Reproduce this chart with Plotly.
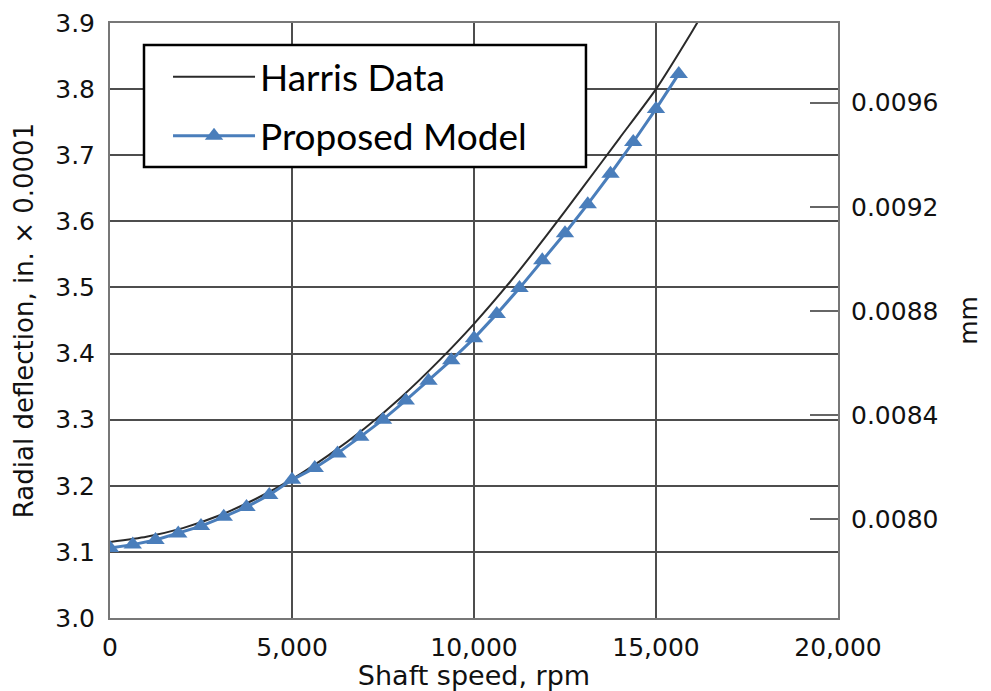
import plotly.graph_objects as go

# Harris Data (black line)
harris_rpm = [0, 1000, 2000, 3000, 4000, 5000, 6000, 7000, 8000, 9000, 10000,
              11000, 12000, 13000, 14000, 15000, 16000, 16150]
harris_defl = [3.115, 3.123, 3.136, 3.155, 3.180, 3.210, 3.246, 3.287, 3.334, 3.387,
               3.445, 3.509, 3.579, 3.652, 3.726, 3.800, 3.888, 3.902]

# Proposed Model (blue triangles)
model_rpm = [0, 625, 1250, 1875, 2500, 3125, 3750, 4375, 5000, 5625, 6250, 6875, 7500,
             8125, 8750, 9375, 10000, 10625, 11250, 11875, 12500, 13125, 13750, 14375,
             15000, 15625]
model_defl = [3.106, 3.111, 3.118, 3.128, 3.139, 3.153, 3.168, 3.186, 3.209, 3.227,
              3.249, 3.274, 3.300, 3.329, 3.359, 3.390, 3.423, 3.460, 3.499, 3.541,
              3.582, 3.626, 3.672, 3.720, 3.770, 3.823]

x_ticks = [0, 5000, 10000, 15000, 20000]
y_ticks = [3.0, 3.1, 3.2, 3.3, 3.4, 3.5, 3.6, 3.7, 3.8, 3.9]
mm_ticks = [0.0080, 0.0084, 0.0088, 0.0092, 0.0096]
IN_TO_MM = 0.00254  # 1e-4 in -> mm

FONT = "DejaVu Sans, Verdana, sans-serif"

fig = go.Figure()
fig.add_trace(go.Scatter(
    x=harris_rpm, y=harris_defl, mode="lines", name="Harris Data",
    line=dict(color="#2a2a2a", width=2, shape="spline", smoothing=0.6),
    legendgroup="a"))
fig.add_trace(go.Scatter(
    x=model_rpm, y=model_defl, mode="lines+markers", name="Proposed Model",
    line=dict(color="#4a7ebb", width=3),
    marker=dict(symbol="triangle-up", size=16, color="#4a7ebb"),
    legendgroup="b"))
# hidden trace to hold the secondary (mm) axis
fig.add_trace(go.Scatter(
    x=model_rpm, y=[v * IN_TO_MM for v in model_defl], yaxis="y2",
    mode="lines", line=dict(width=0, color="rgba(0,0,0,0)"),
    showlegend=False, hoverinfo="skip"))

grid = "#4d4d4d"
tickfont = dict(family=FONT, size=25, color="#111")

fig.update_layout(
    width=983, height=683,
    margin=dict(l=102, r=153, t=15, b=73, autoexpand=False),
    paper_bgcolor="white", plot_bgcolor="white",
    showlegend=True,
    shapes=[dict(type="rect", xref="paper", yref="paper",
                 x0=0.0467, x1=0.6538, y0=0.758, y1=0.963,
                 fillcolor="white", line=dict(color="black", width=2.5),
                 layer="above")],
    legend=dict(
        x=0.0797, y=0.961, xanchor="left", yanchor="top",
        bgcolor="rgba(0,0,0,0)", borderwidth=0,
        font=dict(family="Lato, sans-serif", size=37, color="black"),
        itemwidth=82, tracegroupgap=8, traceorder="grouped",
    ),
    xaxis=dict(
        range=[0, 20000], tickvals=x_ticks, tickformat=",d", automargin=False,
        showgrid=True, gridcolor=grid, gridwidth=2,
        showline=True, linecolor="#777", linewidth=2, mirror=True,
        ticks="", zeroline=False, tickfont=tickfont, ticklabelstandoff=6,
        title=dict(text="Shaft speed, rpm", standoff=4,
                   font=dict(family=FONT, size=27, color="#111")),
    ),
    yaxis=dict(
        range=[3.0, 3.9], tickvals=y_ticks, tickformat=".1f", automargin=False,
        showgrid=True, gridcolor=grid, gridwidth=2,
        showline=True, linecolor="#777", linewidth=2, mirror=True,
        ticks="", zeroline=False, tickfont=tickfont, ticklabelstandoff=8,
        title=dict(text="Radial deflection, in. × 0.0001", standoff=14,
                   font=dict(family=FONT, size=26, color="#111")),
    ),
    yaxis2=dict(
        overlaying="y", side="right", anchor="x", automargin=False,
        range=[3.0 * IN_TO_MM, 3.9 * IN_TO_MM], tickvals=mm_ticks, tickformat=".4f",
        showgrid=False, zeroline=False,
        ticks="inside", ticklen=28, tickwidth=2, tickcolor="#666",
        tickfont=tickfont, ticklabelstandoff=12,
        title=dict(text="mm", standoff=22, font=dict(family=FONT, size=25, color="#111")),
    ),
)

fig.write_html("out.html")
